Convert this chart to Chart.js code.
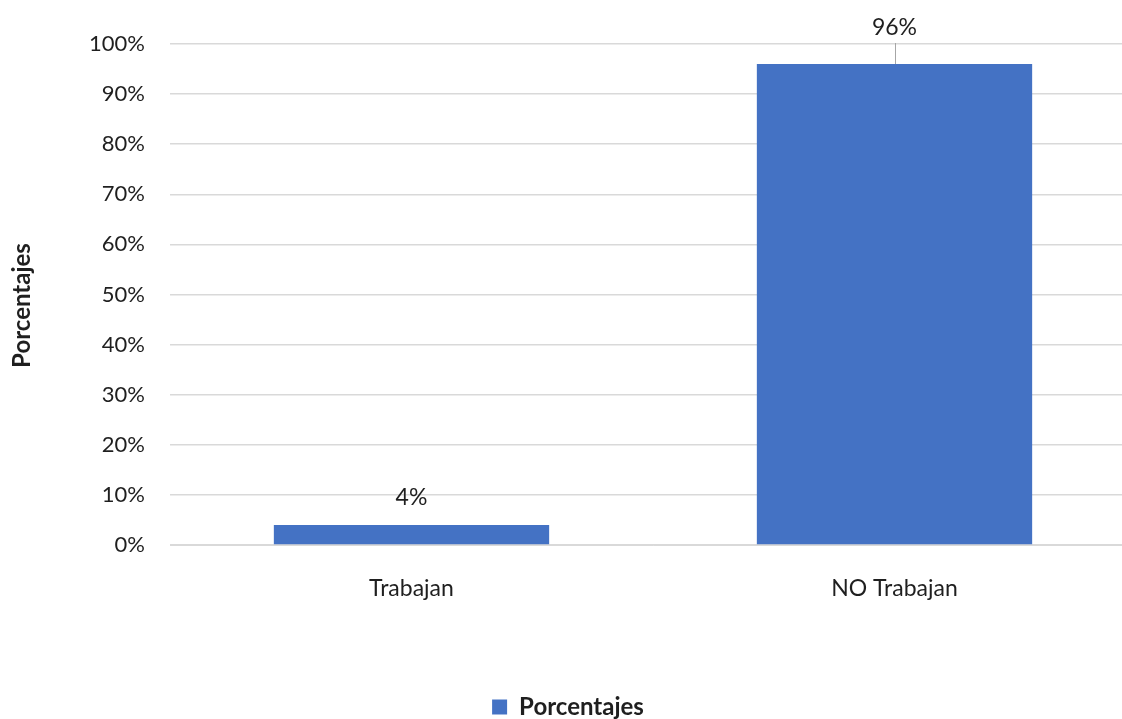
<!doctype html>
<html>
<head>
    <title>Porcentajes</title>
    <script src="https://cdn.jsdelivr.net/npm/chart.js"></script>
    <style>
        html, body { margin: 0; padding: 0; background: #fff; overflow: hidden; }
        .grafico { width: 1136px; height: 719px; }
    </style>
</head>
<body>
    <div class="grafico">
        <canvas id="grafico"></canvas>
    </div>

    <script>
        var categorias = ['Trabajan', 'NO Trabajan'];
        var porcentajes = [4, 96];
        var marcasY = [0, 10, 20, 30, 40, 50, 60, 70, 80, 90, 100];
        var tituloEjeY = 'Porcentajes';

        var fuente = 'Lato, "Open Sans", sans-serif';
        var colorTexto = '#1f1f1f';

        // etiquetas de valor encima de cada barra (con línea guía si no cabe)
        var etiquetas = {
            id: 'etiquetas',
            afterDatasetsDraw(chart) {
                var ctx = chart.ctx;
                var area = chart.chartArea;
                var meta = chart.getDatasetMeta(0);
                ctx.save();
                ctx.font = '23px ' + fuente;
                ctx.fillStyle = colorTexto;
                ctx.textAlign = 'center';
                ctx.textBaseline = 'middle';
                meta.data.forEach(function (barra, i) {
                    var y = barra.y - 27;
                    if (y < area.top + 12) {
                        y = area.top - 16;
                        ctx.strokeStyle = '#a6a6a6';
                        ctx.lineWidth = 1;
                        ctx.beginPath();
                        ctx.moveTo(Math.round(barra.x) + 0.5, barra.y);
                        ctx.lineTo(Math.round(barra.x) + 0.5, y + 15);
                        ctx.stroke();
                    }
                    ctx.fillText(porcentajes[i] + '%', barra.x, y);
                });
                ctx.restore();
            }
        };

        // título vertical del eje Y, algo por debajo del centro del área
        var tituloY = {
            id: 'tituloY',
            afterDraw(chart) {
                var ctx = chart.ctx;
                var area = chart.chartArea;
                ctx.save();
                ctx.translate(22, (area.top + area.bottom) / 2 + 11);
                ctx.rotate(-Math.PI / 2);
                ctx.font = 'bold 24px ' + fuente;
                ctx.fillStyle = colorTexto;
                ctx.textAlign = 'center';
                ctx.textBaseline = 'middle';
                ctx.fillText(tituloEjeY, 0, 0);
                ctx.restore();
            }
        };

        new Chart(document.getElementById('grafico').getContext('2d'), {
            type: 'bar',
            data: {
                labels: categorias,
                datasets: [{
                    label: 'Porcentajes',
                    data: porcentajes,
                    backgroundColor: '#4472C4',
                    borderWidth: 0,
                    barPercentage: 0.57,
                    categoryPercentage: 1
                }]
            },
            options: {
                responsive: true,
                maintainAspectRatio: false,
                animation: false,
                layout: { padding: { top: 44, left: 0, right: 0, bottom: -10 } },
                plugins: {
                    tooltip: { enabled: false },
                    legend: {
                        display: true,
                        position: 'bottom',
                        labels: {
                            color: colorTexto,
                            font: { family: fuente, size: 24, weight: 'bold' },
                            boxWidth: 15,
                            boxHeight: 15,
                            padding: 0
                        }
                    }
                },
                scales: {
                    x: {
                        grid: { display: false },
                        border: { color: '#d9d9d9' },
                        ticks: {
                            color: colorTexto,
                            font: { family: fuente, size: 23 },
                            padding: 22
                        },
                        afterFit: function (escala) { escala.height = 150; }
                    },
                    y: {
                        min: 0,
                        max: 100,
                        border: { display: false },
                        grid: { color: '#d9d9d9', lineWidth: 1.5, drawTicks: false },
                        afterBuildTicks: function (escala) {
                            escala.ticks = marcasY.map(function (v) { return { value: v }; });
                        },
                        ticks: {
                            color: colorTexto,
                            font: { family: fuente, size: 22 },
                            padding: 25
                        ,
                            callback: function (v) { return v + '%'; }
                        },
                        afterFit: function (escala) { escala.width = 170; }
                    }
                }
            },
            plugins: [etiquetas, tituloY]
        });
    </script>
</body>
</html>
